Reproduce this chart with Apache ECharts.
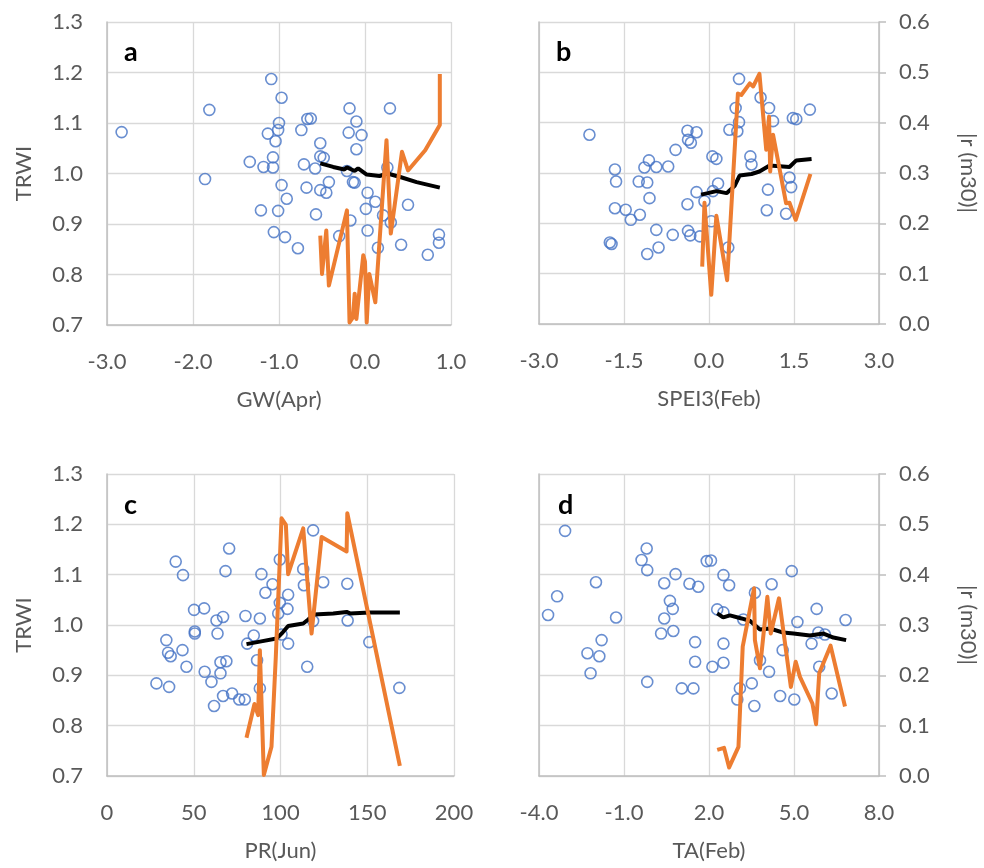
<!DOCTYPE html>
<html>
<head>
<meta charset="utf-8">
<script src="https://cdn.jsdelivr.net/npm/echarts@6/dist/echarts.min.js"></script>
<style>
  html, body { margin: 0; padding: 0; background: #fff; }
  #chart { width: 984px; height: 868px; }
</style>
</head>
<body>
<div id="chart"></div>
<script>
// 散点: [x, TRWI]
const gwPoints = [
  [-2.83, 1.082], [-1.81, 1.126], [-1.86, 0.989], [-1.09, 1.187], [-0.97, 1.150],
  [-1.00, 1.100], [-1.01, 1.086], [-1.13, 1.079], [-1.04, 1.064], [-0.74, 1.086],
  [-0.67, 1.108], [-0.63, 1.109], [-0.52, 1.060], [-0.52, 1.034], [-0.48, 1.031],
  [-1.34, 1.023], [-1.18, 1.013], [-1.07, 1.032], [-1.07, 1.012], [-0.71, 1.018],
  [-0.58, 1.010], [-0.18, 1.129], [-0.10, 1.103], [-0.19, 1.081], [-0.04, 1.076],
  [-0.10, 1.048], [0.29, 1.129], [0.26, 1.012], [-0.21, 1.005], [-0.14, 0.983],
  [-0.12, 0.982], [-0.97, 0.977], [-0.68, 0.972], [-0.52, 0.967], [-0.42, 0.983],
  [-0.45, 0.962], [-0.91, 0.950], [0.03, 0.962], [0.12, 0.944], [0.01, 0.930],
  [-1.21, 0.927], [-1.01, 0.926], [-0.57, 0.919], [-0.17, 0.907], [0.21, 0.917],
  [0.30, 0.903], [0.50, 0.938], [-1.06, 0.884], [-0.93, 0.874], [-0.78, 0.852],
  [-0.30, 0.876], [0.03, 0.887], [0.15, 0.853], [0.42, 0.859], [0.73, 0.839],
  [0.86, 0.879], [0.86, 0.863]
];
const speiPoints = [
  [-2.11, 1.076], [-1.66, 1.007], [-1.64, 0.983], [-1.66, 0.930], [-1.75, 0.862],
  [-1.72, 0.859], [-1.47, 0.927], [-1.38, 0.907], [-1.22, 0.917], [-1.24, 0.983],
  [-1.09, 0.981], [-1.05, 0.950], [-1.06, 1.025], [-1.14, 1.011], [-0.93, 1.012],
  [-0.72, 1.013], [-0.59, 1.046], [-0.93, 0.887], [-0.89, 0.852], [-1.09, 0.839],
  [-0.64, 0.877], [-0.38, 1.084], [-0.22, 1.081], [-0.37, 1.066], [-0.32, 1.060],
  [-0.38, 0.938], [-0.22, 0.962], [-0.37, 0.885], [-0.33, 0.876], [-0.16, 0.874],
  [-0.08, 0.944], [0.06, 1.033], [0.13, 1.028], [0.16, 0.979], [0.07, 0.964],
  [0.04, 0.904], [0.34, 0.852], [0.53, 1.187], [0.47, 1.129], [0.36, 1.086],
  [0.53, 1.101], [0.50, 1.083], [0.73, 1.033], [0.75, 1.017], [0.91, 1.150],
  [1.06, 1.129], [1.13, 1.103], [1.04, 0.967], [1.02, 0.926], [1.42, 0.991],
  [1.45, 0.972], [1.36, 0.919], [1.48, 1.109], [1.54, 1.107], [1.78, 1.126]
];
const prPoints = [
  [39.6, 1.126], [43.8, 1.099], [70.4, 1.152], [68.3, 1.107], [89.0, 1.101],
  [99.6, 1.130], [113.1, 1.111], [118.8, 1.188], [124.6, 1.085], [138.5, 1.082],
  [113.5, 1.079], [95.4, 1.081], [91.3, 1.064], [104.4, 1.060], [99.6, 1.044],
  [104.0, 1.032], [98.7, 1.023], [50.2, 1.030], [56.0, 1.033], [63.1, 1.009],
  [66.9, 1.016], [79.8, 1.018], [88.1, 1.013], [118.8, 1.008], [138.7, 1.009],
  [50.6, 0.987], [50.6, 0.983], [63.7, 0.983], [34.2, 0.970], [35.2, 0.945],
  [36.7, 0.938], [43.5, 0.950], [45.8, 0.917], [56.3, 0.907], [65.4, 0.926],
  [68.8, 0.928], [65.4, 0.904], [60.2, 0.887], [28.5, 0.884], [35.8, 0.877],
  [66.9, 0.859], [72.1, 0.864], [76.2, 0.852], [79.4, 0.852], [61.7, 0.839],
  [84.6, 0.979], [80.8, 0.963], [86.5, 0.930], [88.1, 0.874], [104.4, 0.963],
  [100.6, 0.981], [115.4, 0.917], [151.2, 0.966], [168.5, 0.875]
];
const taPoints = [
  [-3.68, 1.020], [-3.36, 1.057], [-3.08, 1.187], [-1.99, 1.085], [-1.28, 1.015],
  [-2.29, 0.944], [-1.87, 0.938], [-1.79, 0.970], [-2.18, 0.904], [-0.20, 1.152],
  [-0.38, 1.129], [-0.18, 1.109], [0.42, 1.083], [0.82, 1.101], [0.62, 1.048],
  [0.72, 1.032], [0.42, 1.013], [0.31, 0.983], [0.74, 0.988], [-0.18, 0.887],
  [1.31, 1.082], [1.62, 1.076], [1.51, 0.966], [1.51, 0.927], [1.04, 0.874],
  [1.45, 0.874], [1.92, 1.127], [2.07, 1.128], [2.51, 1.099], [2.71, 1.079],
  [2.29, 1.031], [2.51, 1.025], [2.51, 0.963], [2.51, 0.925], [2.12, 0.917],
  [3.21, 1.011], [3.62, 1.064], [3.09, 0.874], [3.00, 0.852], [3.51, 0.884],
  [3.60, 0.839], [3.80, 0.930], [4.12, 0.907], [4.21, 1.081], [4.60, 0.950],
  [4.51, 0.859], [5.01, 0.852], [4.92, 1.107], [5.12, 1.006], [5.80, 1.032],
  [5.62, 0.963], [5.86, 0.985], [6.09, 0.981], [5.89, 0.917], [6.33, 0.864],
  [6.82, 1.010]
];

// 滑动平均 TRWI (m30)
const gwMean = [
  [-0.52, 1.020], [-0.37, 1.013], [-0.24, 1.008], [-0.21, 1.012], [-0.12, 1.005],
  [-0.08, 1.010], [0.02, 0.998], [0.17, 0.995], [0.26, 1.000], [0.41, 0.993],
  [0.60, 0.983], [0.87, 0.972]
];
const speiMean = [
  [-0.14, 0.957], [-0.02, 0.960], [0.13, 0.964], [0.31, 0.960], [0.45, 0.974],
  [0.54, 0.995], [0.75, 0.998], [0.89, 1.003], [1.07, 1.015], [1.42, 1.012],
  [1.54, 1.025], [1.81, 1.028]
];
const prMean = [
  [80.4, 0.962], [88.1, 0.967], [97.7, 0.973], [101.2, 0.985], [104.4, 0.998],
  [113.1, 1.003], [116.0, 1.011], [119.2, 1.021], [130.4, 1.023], [138.1, 1.026],
  [140.0, 1.023], [151.5, 1.025], [168.8, 1.025]
];
const taMean = [
  [2.29, 1.023], [2.50, 1.015], [2.74, 1.019], [3.15, 1.013], [3.45, 1.008],
  [3.80, 0.991], [4.15, 0.993], [4.62, 0.985], [4.98, 0.983], [5.56, 0.979],
  [6.04, 0.983], [6.39, 0.975], [6.84, 0.970]
];

// |r (m30)|
const gwR = [
  [-0.52, 0.177], [-0.50, 0.101], [-0.45, 0.187], [-0.42, 0.078], [-0.21, 0.227],
  [-0.18, 0.005], [-0.14, 0.015], [-0.12, 0.062], [-0.10, 0.012], [-0.02, 0.138],
  [0.00, 0.125], [0.02, 0.005], [0.05, 0.101], [0.12, 0.045], [0.25, 0.366],
  [0.30, 0.181], [0.43, 0.343], [0.50, 0.306], [0.70, 0.346], [0.87, 0.396],
  [0.87, 0.497]
];
const speiR = [
  [-0.12, 0.114], [-0.08, 0.241], [0.04, 0.058], [0.13, 0.215], [0.32, 0.087],
  [0.51, 0.458], [0.57, 0.455], [0.72, 0.478], [0.78, 0.472], [0.89, 0.497],
  [1.01, 0.346], [1.06, 0.412], [1.08, 0.303], [1.13, 0.376], [1.36, 0.240],
  [1.42, 0.241], [1.53, 0.207], [1.79, 0.298]
];
const prR = [
  [80.4, 0.076], [85.0, 0.143], [87.1, 0.121], [88.1, 0.250], [90.4, 0.002],
  [94.8, 0.058], [97.3, 0.237], [100.6, 0.512], [103.1, 0.499], [104.4, 0.401],
  [113.1, 0.492], [117.9, 0.283], [123.7, 0.475], [138.1, 0.446], [138.5, 0.522],
  [168.8, 0.020]
];
const taR = [
  [2.29, 0.052], [2.53, 0.056], [2.71, 0.017], [3.04, 0.058], [3.19, 0.257],
  [3.59, 0.373], [3.62, 0.270], [3.80, 0.214], [4.06, 0.356], [4.18, 0.283],
  [4.47, 0.353], [4.89, 0.177], [5.06, 0.227], [5.21, 0.197], [5.65, 0.144],
  [5.78, 0.103], [5.89, 0.204], [6.29, 0.259], [6.80, 0.138]
];

const panelLetters = ['a', 'b', 'c', 'd'];
const xNames = ['GW(Apr)', 'SPEI3(Feb)', 'PR(Jun)', 'TA(Feb)'];
const xMins = [-3, -3, 0, -4];
const xMaxs = [1, 3, 200, 8];
const xSteps = [1, 1.5, 50, 3];

const FONT = 'Lato, "Noto Sans", sans-serif';
const GRAY = '#595959';

const grids = [
  { left: 107, top: 22, width: 344, height: 303 },
  { left: 539, top: 22, width: 340, height: 302 },
  { left: 107, top: 474, width: 347, height: 302 },
  { left: 539, top: 474, width: 340, height: 302 }
];

const xAxes = [];
const yAxes = [];
const series = [];
const scatterSets = [gwPoints, speiPoints, prPoints, taPoints];
const meanSets = [gwMean, speiMean, prMean, taMean];
const rSets = [gwR, speiR, prR, taR];

for (let i = 0; i < 4; i++) {
  const leftSide = i % 2 === 0;
  const dec = xSteps[i] >= 50 ? 0 : 1;
  xAxes.push({
    type: 'value', gridIndex: i, min: xMins[i], max: xMaxs[i], interval: xSteps[i],
    name: xNames[i], nameLocation: 'middle', nameGap: 64,
    nameTextStyle: { color: GRAY, fontSize: 22, fontFamily: FONT },
    axisLine: { show: true, onZero: false, lineStyle: { color: '#BFBFBF', width: 1.5 } },
    axisTick: { show: false },
    axisLabel: { color: GRAY, fontSize: 22, fontFamily: FONT, margin: 26,
      formatter: v => v.toFixed(dec) },
    splitLine: { show: true, lineStyle: { color: '#D9D9D9', width: 1.3 } }
  });
  // 左轴 TRWI
  yAxes.push({
    type: 'value', gridIndex: i, min: 0.7, max: 1.3, interval: 0.1, position: 'left',
    name: leftSide ? 'TRWI' : '', nameLocation: 'middle', nameGap: 72,
    nameTextStyle: { color: GRAY, fontSize: 22, fontFamily: FONT },
    axisLine: { show: true, onZero: false, lineStyle: { color: '#BFBFBF', width: 1.5 } },
    axisTick: { show: false },
    axisLabel: { show: leftSide, color: GRAY, fontSize: 22, fontFamily: FONT, margin: 24,
      formatter: v => v.toFixed(1) },
    splitLine: { show: true, lineStyle: { color: '#D9D9D9', width: 1.3 } }
  });
  // 右轴 |r|
  yAxes.push({
    type: 'value', gridIndex: i, min: 0, max: 0.6, interval: 0.1, position: 'right',
    name: leftSide ? '' : '|r (m30)|', nameLocation: 'middle', nameGap: 78,
    nameRotate: -90,
    nameTextStyle: { color: GRAY, fontSize: 22, fontFamily: FONT },
    axisLine: { show: !leftSide, onZero: false, lineStyle: { color: '#BFBFBF', width: 1.5 } },
    axisTick: { show: !leftSide, length: 7, lineStyle: { color: '#BFBFBF', width: 1.5 } },
    axisLabel: { show: !leftSide, color: GRAY, fontSize: 22, fontFamily: FONT, margin: 20,
      formatter: v => v.toFixed(1) },
    splitLine: { show: false }
  });

  series.push({
    type: 'scatter', xAxisIndex: i, yAxisIndex: i * 2, data: scatterSets[i],
    symbol: 'circle', symbolSize: 11, z: 2,
    itemStyle: { color: 'rgba(0,0,0,0)', borderColor: '#4472C4', borderWidth: 1.6 }
  });
  series.push({
    type: 'line', xAxisIndex: i, yAxisIndex: i * 2, data: meanSets[i],
    showSymbol: false, smooth: false, z: 3,
    lineStyle: { color: '#000000', width: 4 }
  });
  series.push({
    type: 'line', xAxisIndex: i, yAxisIndex: i * 2 + 1, data: rSets[i],
    showSymbol: false, smooth: false, z: 4,
    lineStyle: { color: '#ED7D31', width: 4, join: 'round' }
  });
}

const letterPos = [[124, 52], [556, 52], [124, 505], [558, 505]];
const graphics = panelLetters.map((t, i) => ({
  type: 'text', x: letterPos[i][0], y: letterPos[i][1], z: 10,
  style: { text: t, fill: '#000', font: 'bold 27px ' + FONT, verticalAlign: 'middle' }
}));

const chart = echarts.init(document.getElementById('chart'), null, { renderer: 'canvas' });
chart.setOption({
  animation: false,
  backgroundColor: '#ffffff',
  grid: grids,
  xAxis: xAxes,
  yAxis: yAxes,
  series: series,
  graphic: graphics
});
</script>
</body>
</html>
